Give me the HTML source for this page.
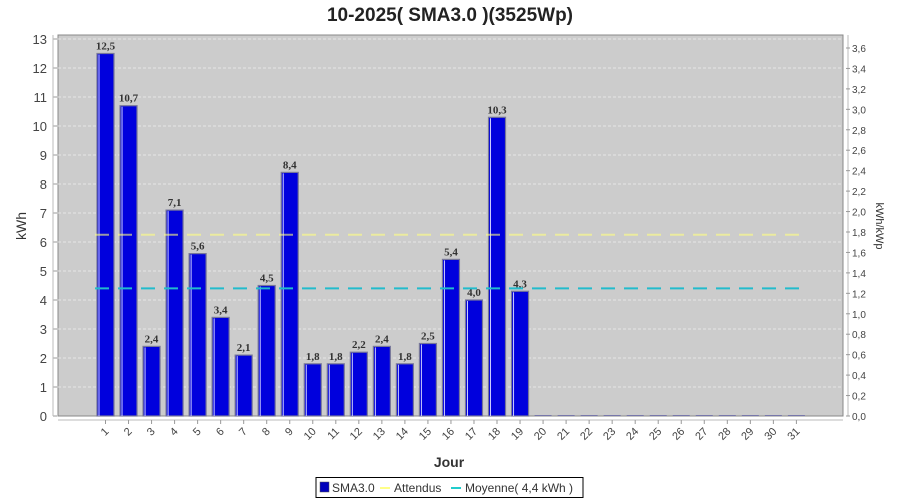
<!DOCTYPE html>
<html><head><meta charset="utf-8"><style>body{margin:0;background:#fff}svg{display:block}</style></head>
<body>
<svg id="c" width="900" height="500" xmlns="http://www.w3.org/2000/svg" font-family="Liberation Sans, DejaVu Sans, sans-serif">
<rect width="900" height="500" fill="#fff"/>
<text x="450" y="21" text-anchor="middle" font-size="19" font-weight="bold" fill="#222">10-2025( SMA3.0 )(3525Wp)</text>
<rect x="58" y="35" width="785" height="381" fill="#cccccc" stroke="#888" stroke-width="1"/>
<g id="g"></g>
<text x="449" y="467" text-anchor="middle" font-size="14" font-weight="bold" fill="#333">Jour</text>
<text transform="translate(26,226) rotate(-90)" text-anchor="middle" font-size="14" fill="#333">kWh</text>
<text transform="translate(876,226) rotate(90)" text-anchor="middle" font-size="11" fill="#333">kWh/kWp</text>
<rect x="316" y="477.5" width="267" height="20" fill="#fff" stroke="#000"/>
<rect x="320" y="482" width="9" height="10" fill="#0000bb" stroke="#555" stroke-width="0.5"/>
<text x="332" y="492" font-size="12" fill="#333">SMA3.0</text>
<line x1="380" y1="488" x2="390" y2="488" stroke="#ffff88" stroke-width="2"/>
<text x="394" y="492" font-size="12" fill="#333">Attendus</text>
<line x1="451" y1="488" x2="461" y2="488" stroke="#22cccc" stroke-width="2"/>
<text x="465" y="492" font-size="12" fill="#333">Moyenne( 4,4 kWh )</text>
</svg>
<script>
var g=document.getElementById('g'),s='';
function Y(v){return 416-v*29;}
for(var i=0;i<=13;i++){var y=Y(i);
 if(i>0) s+='<line x1="58" x2="843" y1="'+y+'" y2="'+y+'" stroke="#eeeeee" stroke-dasharray="3,2" stroke-width="0.7"/>';
 s+='<line x1="53" x2="57" y1="'+y+'" y2="'+y+'" stroke="#999"/><text x="47" y="'+(y+5)+'" text-anchor="end" font-size="13" fill="#444">'+i+'</text>';}
s+='<line x1="53" x2="53" y1="35" y2="416" stroke="#bbb"/>';
s+='<line x1="848" x2="848" y1="35" y2="416" stroke="#bbb"/>';
for(var k=0;k<=18;k++){var v=k*0.2,y=416-v/3.688*377;
 s+='<line x1="846" x2="850" y1="'+y+'" y2="'+y+'" stroke="#999"/><text x="852" y="'+(y+4)+'" font-size="10" fill="#444">'+v.toFixed(1).replace('.',',')+'</text>';}
s+='<line x1="58" x2="843" y1="420" y2="420" stroke="#bbb"/>';
var d=[12.5,10.7,2.4,7.1,5.6,3.4,2.1,4.5,8.4,1.8,1.8,2.2,2.4,1.8,2.5,5.4,4.0,10.3,4.3];
for(var j=0;j<31;j++){var x=105.5+j*23.03;
 s+='<line x1="'+x+'" x2="'+x+'" y1="420" y2="424" stroke="#999"/>';
 s+='<text transform="translate('+(x+4)+',432) rotate(-45)" text-anchor="end" font-size="11" fill="#444">'+(j+1)+'</text>';
 if(j<19){var v=d[j],t=Y(v);
  s+='<rect x="'+(x-8.5)+'" y="'+t+'" width="17" height="'+(416-t)+'" fill="#0000dd" stroke="#777799" stroke-width="1.2"/>';
  s+='<line x1="'+(x-6.5)+'" x2="'+(x-6.5)+'" y1="'+(t+1)+'" y2="416" stroke="#ccccff" stroke-width="1"/>';
  s+='<text x="'+x+'" y="'+(t-4)+'" text-anchor="middle" font-size="11" font-weight="bold" font-family="Liberation Serif, serif" fill="#333">'+v.toFixed(1).replace('.',',')+'</text>';
 } else s+='<line x1="'+(x-8.5)+'" x2="'+(x+8.5)+'" y1="415.5" y2="415.5" stroke="#7777aa"/>';}
s+='<line x1="95" x2="805" y1="'+Y(6.25)+'" y2="'+Y(6.25)+'" stroke="#ffff80" stroke-opacity="0.6" stroke-width="2" stroke-dasharray="14,9"/>';
s+='<line x1="95" x2="805" y1="'+Y(4.4)+'" y2="'+Y(4.4)+'" stroke="#22bbcc" stroke-width="2" stroke-dasharray="14,9"/>';
g.innerHTML=s;
</script>
</body></html>
